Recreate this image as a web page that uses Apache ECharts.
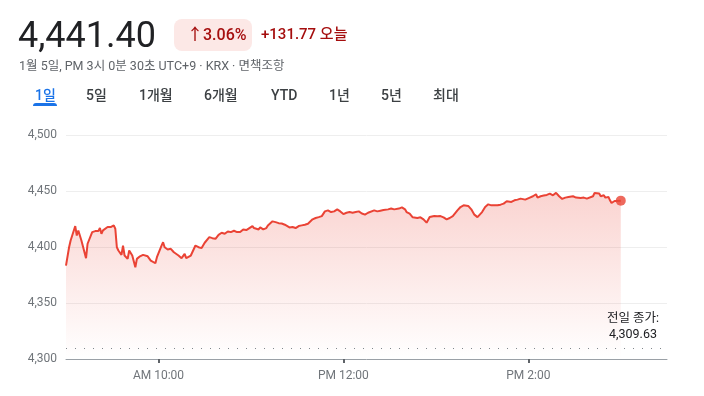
<!DOCTYPE html>
<html><head><meta charset="utf-8">
<script src="https://cdn.jsdelivr.net/npm/echarts@6/dist/echarts.min.js"></script>
<style>html,body{margin:0;padding:0;background:#fff}#c{width:704px;height:396px}</style>
</head><body><div id="c"></div>
<script>
// ---- data ----
const times = [
  "09:00","09:02","09:03","09:06","09:07","09:08","09:09","09:10","09:11","09:13",
  "09:14","09:17","09:19","09:21","09:22","09:23","09:24","09:27","09:29","09:31",
  "09:32","09:33","09:34","09:36","09:37","09:38","09:40","09:41","09:43","09:45",
  "09:46","09:48","09:49","09:50","09:53","09:55","09:58","09:59","10:02","10:03",
  "10:04","10:06","10:08","10:10","10:11","10:13","10:15","10:17","10:18","10:21",
  "10:22","10:24","10:26","10:28","10:30","10:33","10:35","10:37","10:39","10:41",
  "10:43","10:45","10:47","10:49","10:51","10:53","10:55","10:57","10:59","11:01",
  "11:02","11:05","11:06","11:08","11:10","11:11","11:14","11:16","11:18","11:20",
  "11:22","11:23","11:25","11:27","11:29","11:31","11:33","11:35","11:37","11:40",
  "11:42","11:44","11:46","11:48","11:50","11:52","11:54","11:56","11:58","12:00",
  "12:02","12:04","12:06","12:08","12:10","12:12","12:14","12:16","12:17","12:20",
  "12:22","12:24","12:26","12:29","12:31","12:33","12:36","12:38","12:40","12:41",
  "12:43","12:45","12:48","12:50","12:52","12:54","12:55","12:56","12:59","13:01",
  "13:03","13:05","13:07","13:09","13:11","13:14","13:16","13:18","13:19","13:21",
  "13:23","13:25","13:27","13:28","13:30","13:32","13:34","13:36","13:37","13:40",
  "13:42","13:44","13:46","13:49","13:51","13:53","13:55","13:58","13:59","14:01",
  "14:03","14:05","14:06","14:08","14:10","14:12","14:14","14:16","14:17","14:18",
  "14:20","14:22","14:24","14:26","14:27","14:29","14:31","14:34","14:36","14:38",
  "14:39","14:42","14:43","14:44","14:46","14:47","14:49","14:50","14:52","14:53",
  "14:54","14:56","14:57","15:00"
];
const values = [
  4383.4,4399.8,4405.8,4418.7,4410.3,4414.8,4413.9,4405.8,4404.9,4390.0,
  4402.9,4413.3,4414.2,4414.2,4416.9,4411.8,4414.8,4417.8,4417.8,4419.3,
  4416.3,4399.8,4396.9,4393.0,4401.3,4392.4,4389.4,4396.9,4392.4,4381.9,
  4389.4,4391.7,4390.0,4393.0,4391.7,4387.9,4385.5,4390.9,4401.3,4404.3,
  4399.8,4397.8,4398.4,4395.3,4393.9,4392.4,4390.0,4393.9,4390.0,4392.4,
  4393.0,4401.3,4399.8,4399.0,4403.8,4408.8,4407.9,4407.3,4410.9,4412.7,
  4411.8,4413.9,4413.3,4414.5,4413.3,4413.3,4415.7,4415.1,4416.9,4418.7,
  4416.9,4415.7,4417.5,4415.7,4416.9,4419.3,4422.9,4422.2,4421.3,4421.0,
  4419.9,4418.7,4417.5,4417.8,4416.9,4418.7,4419.3,4419.9,4420.8,4424.7,
  4425.9,4426.7,4427.6,4431.8,4432.7,4431.2,4431.8,4433.6,4431.8,4429.4,
  4430.6,4431.2,4430.6,4431.2,4431.8,4429.9,4428.9,4430.6,4431.8,4432.7,
  4431.8,4432.4,4433.0,4433.6,4434.3,4433.6,4434.3,4435.4,4433.6,4431.2,
  4429.8,4426.5,4425.9,4426.5,4424.7,4421.7,4420.8,4426.7,4427.6,4427.4,
  4427.6,4426.5,4424.7,4425.9,4427.6,4432.7,4435.7,4437.2,4438.7,4436.7,
  4433.6,4428.9,4426.7,4427.6,4431.2,4435.7,4438.1,4437.2,4438.4,4437.2,
  4437.8,4438.7,4440.8,4440.2,4441.7,4442.3,4443.2,4442.3,4443.2,4444.1,
  4445.3,4447.1,4444.1,4445.3,4445.9,4446.5,4447.7,4446.2,4447.1,4448.3,
  4445.3,4442.9,4444.1,4444.7,4446.2,4445.3,4444.1,4443.8,4444.1,4443.2,
  4444.1,4445.3,4448.3,4448.9,4447.7,4445.3,4446.2,4444.1,4444.7,4441.7,
  4439.3,4441.1,4441.7,4441.40
];
const prevClose = 4309.63;
const prevCloseLabel = "전일 종가:";
const lastPrice = "4,441.40";
const changePct = "↑3.06%";
const changeAbs = "+131.77 오늘";
const subtitle = "1월 5일, PM 3시 0분 30초 UTC+9 · KRX · 면책조항";
const tabs = ["1일","5일","1개월","6개월","YTD","1년","5년","최대"];
const xTickTimes = ["10:00","12:00","14:00"];
const xTickLabels = ["AM 10:00","PM 12:00","PM 2:00"];
const sessionOpen = "09:00", sessionClose = "15:30";
const yMin = 4300, yMax = 4500, yStep = 50;

// ---- chart ----
const FONT = "Roboto, 'Noto Sans CJK KR', sans-serif";
const toMin = t => { const p = t.split(':').map(Number); return (p[0] - 9) * 60 + p[1]; };
const fmt = v => Number(v).toLocaleString('en-US', {maximumFractionDigits: 2});
const lineData = times.map((t, i) => [toMin(t), values[i]]);
const last = lineData[lineData.length - 1];
const tickVals = xTickTimes.map(toMin);

const tabX = [35, 86, 139, 204, 271, 329, 381, 433];
const graphics = [
  {type:'text', style:{text:lastPrice, x:18, y:38, textVerticalAlign:'middle', font:"400 36px " + FONT, fill:'#202124'}},
  {type:'rect', shape:{x:174, y:19, width:78, height:32, r:8}, style:{fill:'#fce8e6'}},
  {type:'text', style:{text:changePct, x:187, y:35.5, textVerticalAlign:'middle', font:"500 16px " + FONT, fill:'#a50e0e'}},
  {type:'text', style:{text:changeAbs, x:261, y:35.5, textVerticalAlign:'middle', font:"500 15px " + FONT, fill:'#a50e0e'}},
  {type:'text', style:{text:subtitle, x:19, y:67, textVerticalAlign:'middle', font:"400 12.5px " + FONT, fill:'#5f6368'}},
  {type:'rect', shape:{x:33, y:103, width:24, height:3, r:[3,3,0,0]}, style:{fill:'#1a73e8'}}
];
tabs.forEach((t, i) => graphics.push({type:'text', style:{text:t, x:tabX[i], y:96, textVerticalAlign:'middle',
  font:"500 14px " + FONT, fill: i === 0 ? '#1a73e8' : '#3c4043'}}));

const chart = echarts.init(document.getElementById('c'), null, {renderer:'canvas'});
chart.setOption({
  animation:false,
  backgroundColor:'#fff',
  textStyle:{fontFamily:FONT},
  grid:{left:66, right:37, top:135, bottom:37},
  xAxis:{type:'value', min:toMin(sessionOpen), max:toMin(sessionClose),
    axisLine:{lineStyle:{color:'#9aa0a6', width:1}},
    axisTick:{show:true, customValues:tickVals, length:4, lineStyle:{color:'#5f6368', width:2}},
    axisLabel:{customValues:tickVals, margin:11, color:'#70757a', fontSize:12, fontFamily:FONT,
      formatter:v => xTickLabels[tickVals.indexOf(v)]},
    splitLine:{show:false}},
  yAxis:{type:'value', min:yMin, max:yMax, interval:yStep,
    axisLine:{show:false}, axisTick:{show:false},
    axisLabel:{margin:9, color:'#70757a', fontSize:12, fontFamily:FONT, formatter:v => fmt(v)},
    splitLine:{lineStyle:{color:'#eeeeee', width:1}}},
  series:[
    {type:'line', data:lineData, showSymbol:false, symbol:'none',
      lineStyle:{color:'#ea4335', width:2}, z:3,
      areaStyle:{color:new echarts.graphic.LinearGradient(0,0,0,1,[
        {offset:0, color:'rgba(234,67,53,0.33)'},
        {offset:1, color:'rgba(234,67,53,0)'}])},
      markLine:{silent:true, symbol:'none', animation:false,
        lineStyle:{color:'#80868b', type:[1,8], width:1},
        label:{show:true, position:'insideEndTop', distance:[6,5], color:'#202124', fontSize:12.5, lineHeight:16,
          fontFamily:FONT, align:'right', padding:[0,0,0,0],
          formatter:'{a|' + prevCloseLabel + '}\n{b|' + fmt(prevClose) + '}',
          rich:{a:{fontSize:12.5, lineHeight:16, color:'#202124', align:'center', width:56},
                b:{fontSize:12.5, lineHeight:16, color:'#202124', align:'center', width:56}}},
        data:[{yAxis:prevClose}]}},
    {type:'scatter', data:[last], symbol:'circle', symbolSize:10, itemStyle:{color:'#ea4335'}, z:4}
  ],
  graphic:graphics
});
</script></body></html>
